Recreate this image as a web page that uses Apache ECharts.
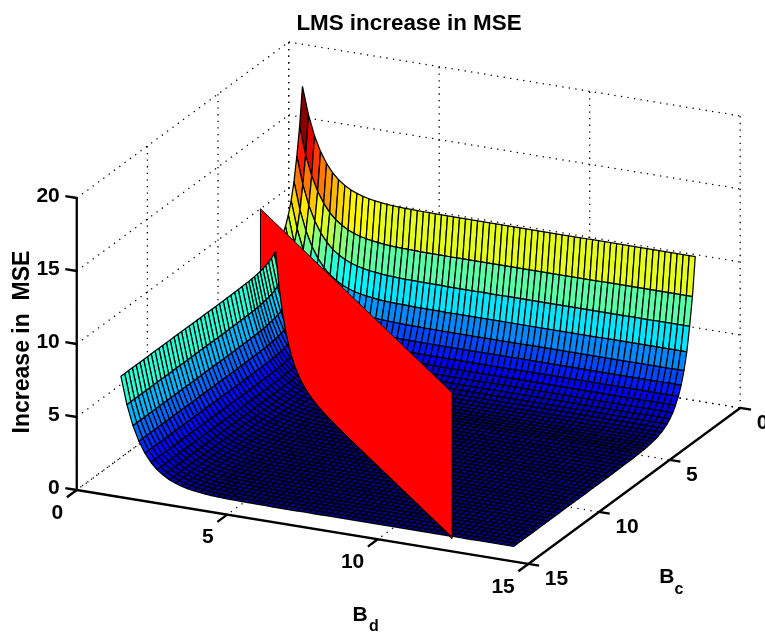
<!DOCTYPE html>
<html>
<head>
<meta charset="utf-8">
<style>html,body{margin:0;padding:0;background:#fff}#chart{width:765px;height:637px}</style>
<script src="https://cdn.jsdelivr.net/npm/echarts@6/dist/echarts.min.js"></script>
</head>
<body>
<div id="chart"></div>
<script>
// Values.
var titleText = 'LMS increase in MSE';
var zAxisName = 'Increase in  MSE';
var bdTicks = [0, 5, 10, 15];
var bcTicks = [0, 5, 10, 15];
var zTicks = [0, 5, 10, 15, 20];

// Surface mesh lines, as measured in the picture.
var bdGrid = [0.95,1.15,1.35,1.55,1.75,1.95,2.15,2.36,2.56,2.76,2.96,3.16,3.36,3.56,3.76,3.96,4.16,4.36,4.56,4.77,4.97,5.17,5.37,5.57,5.77,5.97,6.17,6.37,6.57,6.77,6.97,7.17,7.38,7.58,7.78,7.98,8.18,8.38,8.58,8.78,8.98,9.18,9.38,9.58,9.79,9.99,10.19,10.39,10.59,10.79,10.99,11.19,11.39,11.59,11.79,11.99,12.19,12.4,12.6,12.8,13,13.2,13.4,13.6,13.8,14];
var bcGrid = [1.05,1.25,1.45,1.65,1.85,2.05,2.25,2.45,2.65,2.85,3.05,3.25,3.45,3.65,3.85,4.05,4.25,4.45,4.65,4.85,5.05,5.32,5.59,5.85,6.12,6.39,6.66,6.93,7.19,7.46,7.73,8.0,8.27,8.53,8.8,9.07,9.34,9.61,9.87,10.14,10.41,10.68,10.95,11.21,11.48,11.75,12.02,12.29,12.55,12.82,13.09,13.36,13.63,13.9];
// Height along the far-Bc edge of the surface, per Bd column.
var zAlongBd = [7.25,5.37,4.0,3.0,2.25,1.68,1.26,0.94,0.7,0.53,0.39,0.3,0.22,0.17,0.12,0.09,0.07,0.05,0.04,0.03,0.02,0.02,0.01,0.01,0.01,
  0,0,0,0,0,0,0,0,0,0, 0,0,0,0,0,0,0,0,0,0, 0,0,0,0,0,0,0,0,0,0, 0,0,0,0,0,0,0,0,0,0, 0];
// Height added along the far-Bd edge of the surface, per Bc row.
var zAlongBc = [10.7,8.1,6.2,4.6,3.45,2.6,1.97,1.5,1.13,0.86,0.65,0.49,0.37,0.28,0.21,0.16,0.12,0.09,0.07,0.05,0.04,0.03,0.02,0.02,0.01,0.01,
  0,0,0,0,0,0,0,0,0,0, 0,0,0,0,0,0,0,0,0,0, 0,0,0,0,0,0,0,0];
var zFloor = 0.08;

// The red plane: endpoints on the floor, and its height range.
var planeBd = [0, 12];
var planeBc = [2, 14];
var planeZ = [0, 10];

// Jet colormap and the colour limits of the surface.
var jetStops = ['#00008c','#0000ff','#0080ff','#00ffff','#80ff80','#ffff00','#ff8000','#ff0000','#800000'];
var colorLimits = [0, 18];

// Orthographic view: how one data unit maps onto the hidden pixel-scale axes.
var view = { ox: 288.7, oy: 334, bdX: 30.1, bdY: 4.93, bcX: -14.13, bcY: 10.4, zY: -14.6 };
function project(bd, bc, z) {
  return [view.ox + view.bdX * bd + view.bcX * bc, view.oy + view.bdY * bd + view.bcY * bc + view.zY * z];
}

var FONT = '"Liberation Sans", Arial, Helvetica, sans-serif';
var bdMax = 15, bcMax = 15, zMax = 20;

function height(i, j) { return zAlongBd[i] + zAlongBc[j] + zFloor; }
function jetColor(z) {
  var t = (z - colorLimits[0]) / (colorLimits[1] - colorLimits[0]);
  t = Math.max(0, Math.min(1, t));
  t = (Math.floor(t * 63.999) + 0.5) / 64;   // 64-level colormap
  return echarts.color.lerp(t, jetStops);
}
// side of the red plane: positive is the viewer's side
function planeSide(p) { return p[1] - p[0] - (planeBc[0] - planeBd[0]); }
function clipCell(poly, sign) {
  var out = [];
  for (var k = 0; k < poly.length; k++) {
    var a = poly[k], b = poly[(k + 1) % poly.length];
    var sa = planeSide(a) * sign, sb = planeSide(b) * sign;
    if (sa >= 0) out.push(a);
    if ((sa > 0 && sb < 0) || (sa < 0 && sb > 0)) {
      var t = sa / (sa - sb);
      out.push([a[0] + t * (b[0] - a[0]), a[1] + t * (b[1] - a[1]), a[2] + t * (b[2] - a[2])]);
    }
  }
  return out;
}

var cells = [];
for (var i = 0; i < bdGrid.length - 1; i++) {
  for (var j = 0; j < bcGrid.length - 1; j++) cells.push([i, j]);
}

function surfaceSeries(sign, name) {
  return {
    type: 'custom', name: name, coordinateSystem: 'cartesian2d', animation: false, silent: true,
    progressive: 0, clip: false, data: cells, encode: { x: 0, y: 1 },
    renderItem: function (params, api) {
      var i = api.value(0), j = api.value(1);
      var quad = [
        [bdGrid[i], bcGrid[j], height(i, j)],
        [bdGrid[i + 1], bcGrid[j], height(i + 1, j)],
        [bdGrid[i + 1], bcGrid[j + 1], height(i + 1, j + 1)],
        [bdGrid[i], bcGrid[j + 1], height(i, j + 1)]
      ];
      var poly = clipCell(quad, sign);
      if (poly.length < 3) return null;
      return {
        type: 'polygon',
        shape: { points: poly.map(function (p) { return api.coord(project(p[0], p[1], p[2])); }) },
        style: { fill: jetColor(height(i, j)), stroke: '#000', lineWidth: 1.25, lineJoin: 'bevel' }
      };
    }
  };
}

function segSeries(name, segs, style) {
  return {
    type: 'custom', name: name, coordinateSystem: 'cartesian2d', animation: false, silent: true,
    clip: false, data: segs.map(function (s, k) { return [k, 0]; }), encode: { x: 0, y: 1 },
    renderItem: function (params, api) {
      var s = segs[params.dataIndex];
      var a = api.coord(project(s[0], s[1], s[2])), b = api.coord(project(s[3], s[4], s[5]));
      return { type: 'line', shape: { x1: a[0], y1: a[1], x2: b[0], y2: b[1] }, style: style };
    }
  };
}

// dotted box grid
var gridSegs = [];
zTicks.forEach(function (z) {
  gridSegs.push([0, bcMax, z, 0, 0, z]);
  gridSegs.push([0, 0, z, bdMax, 0, z]);
});
bcTicks.forEach(function (c) {
  gridSegs.push([0, c, 0, 0, c, zMax]);
  gridSegs.push([0, c, 0, bdMax, c, 0]);
});
bdTicks.forEach(function (d) {
  gridSegs.push([d, 0, 0, d, 0, zMax]);
  gridSegs.push([d, 0, 0, d, bcMax, 0]);
});

// solid axes and ticks
var axisSegs = [
  [0, bcMax, 0, 0, bcMax, zMax],
  [0, bcMax, 0, bdMax, bcMax, 0],
  [bdMax, bcMax, 0, bdMax, 0, 0]
];
var tickLen = { bdForZ: 0.38, bcForBd: 0.7, bdForBc: 0.36 };
zTicks.forEach(function (z) { axisSegs.push([0, bcMax, z, -tickLen.bdForZ, bcMax, z]); });
bdTicks.forEach(function (d) { axisSegs.push([d, bcMax, 0, d, bcMax + tickLen.bcForBd, 0]); });
bcTicks.forEach(function (c) { axisSegs.push([bdMax, c, 0, bdMax + tickLen.bdForBc, c, 0]); });

// text items: anchor in data space plus a pixel offset
var texts = [];
bdTicks.forEach(function (d) { texts.push({ t: String(d), at: [d, bcMax, 0], dx: -13.5, dy: 23, size: 21, align: 'right' }); });
bcTicks.forEach(function (c) { texts.push({ t: String(c), at: [bdMax, c, 0], dx: 16.5, dy: 15.5, size: 21, align: 'left' }); });
zTicks.forEach(function (z) { texts.push({ t: String(z), at: [0, bcMax, z], dx: -17, dy: -2, size: 21, align: 'right' }); });
texts.push({ t: 'B', at: [7.5, bcMax, 0], dx: 57.5, dy: 88.5, size: 21, align: 'center' });
texts.push({ t: 'd', at: [7.5, bcMax, 0], dx: 71.5, dy: 99.7, size: 16, align: 'center' });
texts.push({ t: 'B', at: [bdMax, 7.5, 0], dx: 32.5, dy: 91, size: 21, align: 'center' });
texts.push({ t: 'c', at: [bdMax, 7.5, 0], dx: 44.8, dy: 104, size: 16, align: 'center' });
texts.push({ t: zAxisName, at: [0, bcMax, 10], dx: -54.5, dy: -2, size: 23, align: 'center', rotate: Math.PI / 2 });

var textSeries = {
  type: 'custom', name: 'labels', coordinateSystem: 'cartesian2d', animation: false, silent: true,
  clip: false, data: texts.map(function (s, k) { return [k, 0]; }), encode: { x: 0, y: 1 },
  renderItem: function (params, api) {
    var s = texts[params.dataIndex];
    var p = api.coord(project(s.at[0], s.at[1], s.at[2]));
    return {
      type: 'text', x: p[0] + s.dx, y: p[1] + s.dy, rotation: s.rotate || 0,
      style: { text: s.t, fontFamily: FONT, fontWeight: 'bold', fontSize: s.size, fill: '#000', align: s.align, verticalAlign: 'middle' }
    };
  }
};

var planeSeries = {
  type: 'custom', name: 'plane', coordinateSystem: 'cartesian2d', animation: false, silent: true,
  clip: false, data: [[0, 0]], encode: { x: 0, y: 1 },
  renderItem: function (params, api) {
    var pts = [
      project(planeBd[0], planeBc[0], planeZ[0]),
      project(planeBd[1], planeBc[1], planeZ[0]),
      project(planeBd[1], planeBc[1], planeZ[1]),
      project(planeBd[0], planeBc[0], planeZ[1])
    ].map(function (p) { return api.coord(p); });
    return { type: 'polygon', shape: { points: pts }, style: { fill: '#ff0000', stroke: '#000', lineWidth: 1 } };
  }
};

var chart = echarts.init(document.getElementById('chart'), null, { renderer: 'canvas' });
chart.setOption({
  animation: false,
  backgroundColor: '#fff',
  title: {
    text: titleText, left: 404, top: 8, textAlign: 'center',
    textStyle: { fontFamily: FONT, fontWeight: 'bold', fontSize: 22.4, color: '#000' }
  },
  tooltip: { show: false },
  grid: { left: 0, right: 0, top: 0, bottom: 0 },
  xAxis: { type: 'value', min: 0, max: 765, show: false },
  yAxis: { type: 'value', min: 0, max: 637, inverse: true, show: false },
  series: [
    segSeries('grid', gridSegs, { stroke: '#000', lineWidth: 1.3, lineDash: [1.3, 5.3] }),
    segSeries('axes', axisSegs, { stroke: '#000', lineWidth: 2.3, lineCap: 'butt' }),
    surfaceSeries(-1, 'surface behind plane'),
    planeSeries,
    surfaceSeries(1, 'surface before plane'),
    textSeries
  ]
});
</script>
</body>
</html>
